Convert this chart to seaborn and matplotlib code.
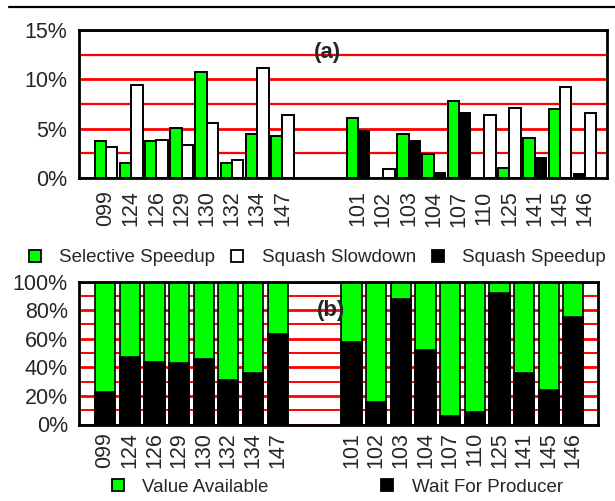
import numpy as np
import pandas as pd
import matplotlib
matplotlib.use("Agg")
import matplotlib.pyplot as plt
import seaborn as sns
from matplotlib.lines import Line2D
from matplotlib.patches import Patch
from matplotlib.ticker import PercentFormatter, MultipleLocator
from matplotlib import font_manager

# ---------------- data ----------------
group1 = ["099", "124", "126", "129", "130", "132", "134", "147"]
group2 = ["101", "102", "103", "104", "107", "110", "125", "141", "145", "146"]
benchmarks = group1 + group2

# panel (a): percent
selective_speedup = [3.8, 1.5, 3.8, 5.1, 10.7, 1.5, 4.5, 4.3,
                     6.1, 0.0, 4.5, 2.4, 7.8, 0.0, 1.0, 4.1, 7.0, 0.0]
squash_slowdown = [3.1, 9.4, 3.9, 3.3, 5.6, 1.8, 11.1, 6.4,
                   0.0, 0.9, 0.0, 0.0, 0.0, 6.4, 7.1, 0.0, 9.2, 6.6]
squash_speedup = [0.0, 0.0, 0.0, 0.0, 0.0, 0.0, 0.0, 0.0,
                  4.8, 0.0, 3.7, 0.5, 6.6, 0.0, 0.0, 2.0, 0.0, 0.4]

# panel (b): percent
wait_for_producer = [22.7, 47.2, 43.9, 43.0, 45.8, 31.1, 36.0, 63.6,
                     57.9, 15.7, 87.9, 52.1, 6.1, 8.6, 92.1, 36.0, 24.3, 75.2]
value_available = [77.3, 52.8, 56.1, 57.0, 54.2, 68.9, 64.0, 36.4,
                   42.1, 84.3, 12.1, 47.9, 93.9, 91.4, 7.9, 64.0, 75.7, 24.8]

series_names = ["Selective Speedup", "Squash Slowdown", "Squash Speedup"]
series_colors = {"Selective Speedup": "#00FF00",
                 "Squash Slowdown": "#FFFFFF",
                 "Squash Speedup": "#000000"}
GREEN = "#00FF00"
RED = "#FF0000"

order = group1 + [" ", "  "] + group2

# ---------------- style ----------------
sns.set_style("white")
plt.rcParams["font.family"] = ["Liberation Sans", "DejaVu Sans"]

def has_font(name):
    try:
        font_manager.findfont(font_manager.FontProperties(family=name),
                              fallback_to_default=False)
        return True
    except Exception:
        return False

if has_font("Liberation Sans Narrow"):
    legend_prop = {"family": ["Liberation Sans Narrow", "Liberation Sans"], "size": 15.5}
else:
    legend_prop = {"family": ["Liberation Sans", "DejaVu Sans"], "size": 13.5}

fig = plt.figure(figsize=(6.15, 5.01), dpi=100)
ax_a = fig.add_axes([79 / 615, 1 - 178 / 501, 528 / 615, 148 / 501])
ax_b = fig.add_axes([79 / 615, 1 - 424.5 / 501, 519 / 615, 143 / 501])

# ---------------- panel (a) ----------------
rows = []
for i, b in enumerate(benchmarks):
    g, w, k = selective_speedup[i], squash_slowdown[i], squash_speedup[i]
    if g > 0:
        rows.append((b, "L", g, "Selective Speedup"))
    if w > 0:
        rows.append((b, "R", w, "Squash Slowdown"))
    if k > 0:
        rows.append((b, "L" if w > 0 else "R", k, "Squash Speedup"))
df_a = pd.DataFrame(rows, columns=["bench", "slot", "value", "series"])

for s in series_names:
    sub = df_a[df_a["series"] == s]
    sns.barplot(data=sub, x="bench", y="value", hue="slot", order=order,
                hue_order=["L", "R"], dodge=True, width=0.9,
                palette={"L": series_colors[s], "R": series_colors[s]},
                saturation=1, edgecolor="black", linewidth=1.4,
                errorbar=None, legend=False, ax=ax_a)

ax_a.set_xlim(-1.07, 19.87)
ax_a.set_ylim(0, 15)
ax_a.yaxis.set_major_locator(MultipleLocator(5))
ax_a.yaxis.set_minor_locator(MultipleLocator(2.5))
ax_a.yaxis.set_major_formatter(PercentFormatter(decimals=0))
ax_a.set_axisbelow(True)
ax_a.grid(which="major", axis="y", color=RED, lw=2.0)
ax_a.grid(which="minor", axis="y", color=RED, lw=1.6)
ax_a.text(8.8, 12.75, "(a)", fontsize=16, fontweight="bold",
          ha="center", va="center")

# ---------------- panel (b) ----------------
df_b = pd.DataFrame({"bench": benchmarks,
                     "wait": wait_for_producer,
                     "avail": value_available})
df_b["total"] = df_b["wait"] + df_b["avail"]
sns.barplot(data=df_b, x="bench", y="total", order=order, color=GREEN,
            saturation=1, width=0.82, edgecolor="black", linewidth=1.2,
            errorbar=None, ax=ax_b)
sns.barplot(data=df_b, x="bench", y="wait", order=order, color="black",
            saturation=1, width=0.82, edgecolor="black", linewidth=1.2,
            errorbar=None, ax=ax_b)
ax_b.set_xlim(-1.06, 20.0)
ax_b.set_ylim(0, 100)
ax_b.yaxis.set_major_locator(MultipleLocator(20))
ax_b.yaxis.set_minor_locator(MultipleLocator(10))
ax_b.yaxis.set_major_formatter(PercentFormatter(decimals=0))
ax_b.set_axisbelow(True)
ax_b.grid(which="major", axis="y", color=RED, lw=2.0)
ax_b.grid(which="minor", axis="y", color=RED, lw=1.4)
ax_b.text(9.15, 80, "(b)", fontsize=16, fontweight="bold",
          ha="center", va="center")

# ---------------- common axes styling ----------------
for ax, xpad, ypad in ((ax_a, 9.0, 8.5), (ax_b, 5.5, 8.0)):
    ax.set_xlabel("")
    ax.set_ylabel("")
    ax.tick_params(axis="x", which="both", length=0, pad=xpad,
                   labelsize=15.5, labelrotation=90)
    ax.tick_params(axis="y", which="both", length=0, pad=ypad, labelsize=15.5)
    for sp in ax.spines.values():
        sp.set_visible(True)
        sp.set_color("black")
        sp.set_linewidth(2.0)
        sp.set_zorder(5)

# ---------------- legends ----------------
handles_a = [Patch(facecolor=series_colors[s], edgecolor="black", lw=1.3, label=s)
             for s in series_names]
fig.legend(handles=handles_a, loc="center left",
           bbox_to_anchor=(29 / 615, 1 - 258 / 501), ncol=3, frameon=False,
           borderpad=0, borderaxespad=0, handlelength=0.62, handleheight=0.6,
           handletextpad=1.0, columnspacing=0.85, prop=legend_prop)

handles_b = [Patch(facecolor=GREEN, edgecolor="black", lw=1.3, label="Value Available"),
             Patch(facecolor="black", edgecolor="black", lw=1.3, label="Wait For Producer")]
fig.legend(handles=handles_b, loc="center left",
           bbox_to_anchor=(112 / 615, 1 - 487 / 501), ncol=2, frameon=False,
           borderpad=0, borderaxespad=0, handlelength=0.62, handleheight=0.6,
           handletextpad=1.0, columnspacing=6.0, prop=legend_prop)

# top rule
fig.add_artist(Line2D([9 / 615, 1.0], [1 - 7 / 501, 1 - 7 / 501],
                      transform=fig.transFigure, color="black", lw=1.6))

fig.savefig("out.png", dpi=100)
